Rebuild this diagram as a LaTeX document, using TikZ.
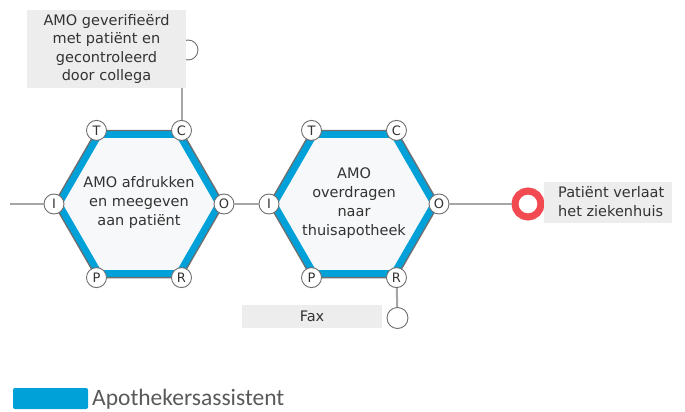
\documentclass[tikz,border=0pt]{standalone}
\usepackage{fontspec}
\setmainfont{DejaVu Sans}
\newfontfamily\legendfont{Carlito}
\definecolor{hexblue}{HTML}{00A0D8}
\definecolor{hexbg}{HTML}{F7F8F9}
\definecolor{hexedge}{HTML}{6E6E6E}
\definecolor{endred}{HTML}{F24A50}
\definecolor{boxgray}{HTML}{EDEDED}
\definecolor{linegray}{HTML}{A6A6A6}
\definecolor{textgray}{HTML}{333333}
\definecolor{legendgray}{HTML}{595959}

\begin{document}
\begin{tikzpicture}[x=1pt,y=-1pt,
  port/.style={circle,draw=hexedge,fill=white,line width=0.9pt,inner sep=0pt,minimum size=20pt,text=textgray,font=\fontsize{13}{13}\selectfont},
  endpoint/.style={circle,draw=hexedge,fill=white,line width=0.9pt,inner sep=0pt,minimum size=20pt},
  flow/.style={draw=linegray,line width=2pt},
  infobox/.style={fill=boxgray,text=textgray,inner sep=0pt,align=center,font=\fontsize{14.5}{18.5}\selectfont},
  hextext/.style={text=textgray,align=center,font=\fontsize{14.5}{19}\selectfont}]
  \useasboundingbox (0,0) rectangle (685,412);

  \foreach \n/\cx in {1/139,2/354}{
    \coordinate (hi\n) at (\cx-85,204);
    \coordinate (ht\n) at (\cx-42.5,130.4);
    \coordinate (hc\n) at (\cx+42.5,130.4);
    \coordinate (ho\n) at (\cx+85,204);
    \coordinate (hr\n) at (\cx+42.5,277.6);
    \coordinate (hp\n) at (\cx-42.5,277.6);
    \fill[hexbg] (hi\n) -- (ht\n) -- (hc\n) -- (ho\n) -- (hr\n) -- (hp\n) -- cycle;
    \begin{scope}
      \clip (hi\n) -- (ht\n) -- (hc\n) -- (ho\n) -- (hr\n) -- (hp\n) -- cycle;
      \draw[hexblue,line width=15pt] (hi\n) -- (ht\n) -- (hc\n) -- (ho\n) -- (hr\n) -- (hp\n) -- cycle;
    \end{scope}
    \draw[hexedge,line width=1.3pt,line join=round] (hi\n) -- (ht\n) -- (hc\n) -- (ho\n) -- (hr\n) -- (hp\n) -- cycle;
    \node[port] (t\n) at (ht\n) {T};
    \node[port] (c\n) at (hc\n) {C};
    \node[port] (i\n) at (hi\n) {I};
    \node[port] (o\n) at (ho\n) {O};
    \node[port] (p\n) at (hp\n) {P};
    \node[port] (r\n) at (hr\n) {R};
  }

  \node[hextext] (step1) at (139,202) {AMO afdrukken\\en meegeven\\aan patiënt};
  \node[hextext] (step2) at (354,203.5) {AMO\\overdragen\\naar\\thuisapotheek};

  \node[endpoint] (verifend) at (188,50) {};
  \node[infobox,minimum width=159pt,minimum height=78pt] (verif) at (106.5,49) {AMO geverifieërd\\met patiënt en\\gecontroleerd\\door collega};

  \node[infobox,minimum width=140pt,minimum height=23pt] (fax) at (312,316.5) {Fax};
  \node[endpoint,minimum size=21pt] (faxend) at (397.5,318) {};

  \node[circle,draw=endred,fill=white,line width=7pt,inner sep=0pt,minimum size=26pt] (exit) at (528,204) {};
  \node[infobox,anchor=west,minimum width=128pt,minimum height=41pt] (leavebox) at (544,202) {};
  \node[text=textgray,anchor=west,align=left,inner sep=0pt,font=\fontsize{14.5}{19}\selectfont] (leave) at (558,202) {Patiënt verlaat\\het ziekenhuis};

  \coordinate (start) at (10,204);
  \draw[flow] (start) -- (i1);
  \draw[flow] (o1) -- (i2);
  \draw[flow] (o2) -- (exit);
  \draw[flow] (c1) -- (c1 |- verif.south);
  \draw[flow] (r2) -- (faxend);

  \node[fill=hexblue,rounded corners=2pt,minimum width=75pt,minimum height=21pt,inner sep=0pt] (legkey) at (50.5,398.5) {};
  \node[anchor=base west,inner sep=0pt,text=legendgray,font=\legendfont\fontsize{23.5}{26}\selectfont] (legtext) at (92,405.5) {Apothekersassistent};
\end{tikzpicture}
\end{document}
